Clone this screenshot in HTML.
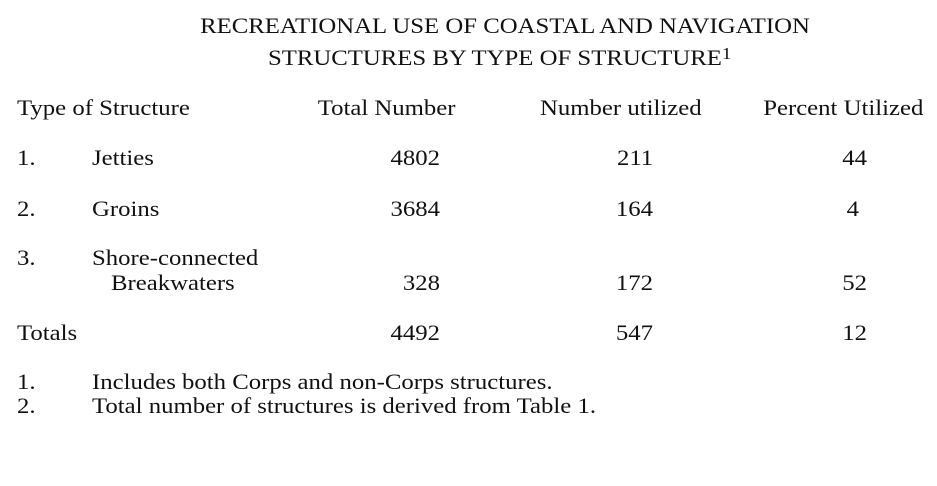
<!DOCTYPE html>
<html><head><meta charset="utf-8"><style>
body{margin:0;width:937px;height:486px;background:#fff;position:relative;overflow:hidden;font-family:"Liberation Serif",serif;color:#111}
.t{position:absolute;font-size:22px;line-height:22px;white-space:nowrap;transform:scaleX(1.125);transform-origin:left center}
.r{text-align:right;transform-origin:right center}
</style></head><body>
<div class="t" style="left:0;width:1010px;text-align:center;top:15px;transform-origin:center center">RECREATIONAL USE OF COASTAL AND NAVIGATION</div>
<div class="t" style="left:268px;top:47px">STRUCTURES BY TYPE OF STRUCTURE<sup style="font-size:17px;position:relative;top:-4px;vertical-align:top">1</sup></div>

<div class="t" style="left:17px;top:97px">Type of Structure</div>
<div class="t r" style="right:482px;top:97px">Total Number</div>
<div class="t r" style="right:235px;top:97px">Number utilized</div>
<div class="t r" style="right:14px;top:97px">Percent Utilized</div>

<div class="t" style="left:17px;top:147px">1.</div>
<div class="t" style="left:92px;top:147px">Jetties</div>
<div class="t r" style="right:497px;top:147px">4802</div>
<div class="t r" style="right:284px;top:147px">211</div>
<div class="t r" style="right:70px;top:147px">44</div>

<div class="t" style="left:17px;top:198px">2.</div>
<div class="t" style="left:92px;top:198px">Groins</div>
<div class="t r" style="right:497px;top:198px">3684</div>
<div class="t r" style="right:284px;top:198px">164</div>
<div class="t r" style="right:78px;top:198px">4</div>

<div class="t" style="left:17px;top:247px">3.</div>
<div class="t" style="left:92px;top:247px">Shore-connected</div>
<div class="t" style="left:111px;top:272px">Breakwaters</div>
<div class="t r" style="right:497px;top:272px">328</div>
<div class="t r" style="right:284px;top:272px">172</div>
<div class="t r" style="right:70px;top:272px">52</div>

<div class="t" style="left:17px;top:322px">Totals</div>
<div class="t r" style="right:497px;top:322px">4492</div>
<div class="t r" style="right:284px;top:322px">547</div>
<div class="t r" style="right:70px;top:322px">12</div>

<div class="t" style="left:17px;top:371px">1.</div>
<div class="t" style="left:92px;top:371px">Includes both Corps and non-Corps structures.</div>
<div class="t" style="left:17px;top:395px">2.</div>
<div class="t" style="left:92px;top:395px">Total number of structures is derived from Table 1.</div>
</body></html>
